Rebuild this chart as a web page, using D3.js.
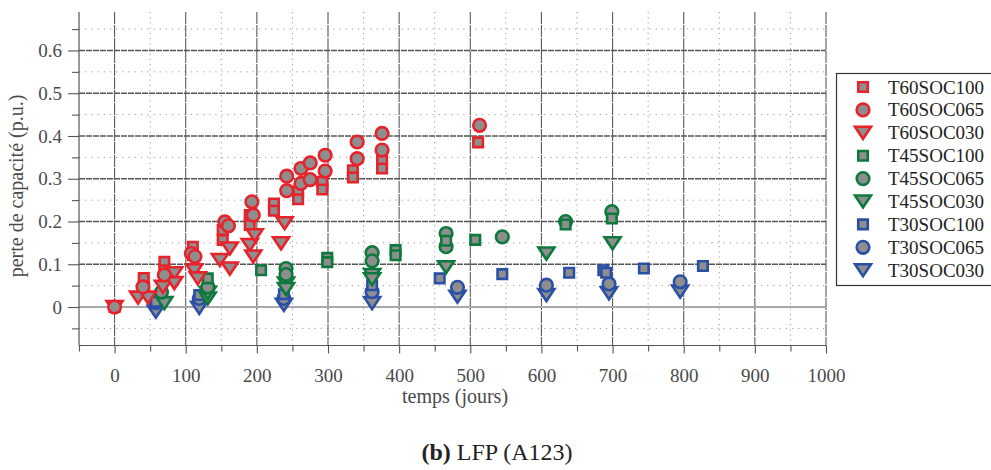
<!DOCTYPE html>
<html>
<head>
<meta charset="utf-8">
<script src="https://cdn.jsdelivr.net/npm/d3@7/dist/d3.min.js"></script>
<style>
  html, body { margin: 0; padding: 0; background: #fff; }
  svg { display: block; font-family: "Liberation Serif", "DejaVu Serif", serif; }
</style>
</head>
<body>
<svg id="chart" width="991" height="470"></svg>
<script>
// ---------- data ----------
const seriesNames = ["T60SOC100","T60SOC065","T60SOC030","T45SOC100","T45SOC065","T45SOC030","T30SOC100","T30SOC065","T30SOC030"];

const T60SOC100 = [[0,0],[41,0.068],[41,0.048],[70,0.106],[70,0.086],[110,0.141],[110,0.121],[152,0.18],[152,0.157],[190,0.215],[190,0.192],[224,0.242],[224,0.225],[258,0.27],[258,0.252],[292,0.293],[292,0.275],[335,0.32],[335,0.303],[376,0.343],[376,0.324],[511,0.385]];
const T60SOC065 = [[0,0],[40,0.047],[70,0.075],[108,0.125],[113,0.118],[155,0.199],[160,0.19],[193,0.246],[195,0.215],[242,0.306],[242,0.272],[262,0.324],[262,0.289],[275,0.337],[275,0.298],[296,0.355],[296,0.318],[341,0.386],[341,0.347],[376,0.406],[376,0.367],[513,0.425]];
const T60SOC030 = [[0,0],[33,0.022],[47,0.022],[68,0.047],[84,0.079],[84,0.056],[112,0.086],[117,0.067],[148,0.11],[162,0.137],[162,0.09],[190,0.145],[195,0.118],[197,0.168],[234,0.149],[239,0.196]];
const T45SOC100 = [[131,0.067],[206,0.086],[299,0.115],[299,0.105],[395,0.133],[395,0.121],[466,0.155],[507,0.157],[634,0.193],[699,0.207]];
const T45SOC065 = [[66,0.035],[131,0.047],[241,0.09],[241,0.076],[362,0.127],[362,0.108],[466,0.172],[466,0.141],[545,0.164],[634,0.2],[699,0.223]];
const T45SOC030 = [[70,0.009],[131,0.02],[131,0.033],[241,0.055],[241,0.042],[362,0.075],[362,0.065],[466,0.093],[607,0.125],[700,0.149]];
const T30SOC100 = [[58,0.012],[119,0.028],[238,0.03],[362,0.051],[457,0.067],[545,0.077],[639,0.08],[687,0.086],[691,0.08],[744,0.09],[827,0.096]];
const T30SOC065 = [[58,0.01],[119,0.02],[238,0.02],[362,0.036],[482,0.046],[607,0.051],[695,0.054],[795,0.059]];
const T30SOC030 = [[58,-0.011],[119,-0.002],[238,0.005],[362,0.009],[482,0.024],[607,0.028],[695,0.032],[795,0.036]];

const xMajorTicks = [0,100,200,300,400,500,600,700,800,900,1000];
const xTickLabels = ["0","100","200","300","400","500","600","700","800","900","1000"];
const xMinorTicks = [-50,50,150,250,350,450,550,650,750,850,950];
const yMajorTicks = [0,0.1,0.2,0.3,0.4,0.5,0.6];
const yMinorTicks = [-0.05,0.05,0.15,0.25,0.35,0.45,0.55,0.65];
const yTickLabels = ["0","0.1","0.2","0.3","0.4","0.5","0.6"];
const xTitle = "temps (jours)";
const yTitle = "perte de capacité (p.u.)";

// ---------- styles ----------
const colorOf = { T60: "#e8222b", T45: "#0c7a3c", T30: "#2950a6" };
const fillGray = "#8e8e8e";

const seriesData = {T60SOC100,T60SOC065,T60SOC030,T45SOC100,T45SOC065,T45SOC030,T30SOC100,T30SOC065,T30SOC030};

const svg = d3.select("#chart");
const plot = { left: 79, right: 826, top: 12, bottom: 345.5 };

const x = d3.scaleLinear().domain([-50, 1000]).range([plot.left, plot.right]);
const y = d3.scaleLinear().domain([-0.09, 0.69]).range([plot.bottom, plot.top]);

// ---------- grid ----------
const grid = svg.append("g");
grid.selectAll(".vminor").data(xMinorTicks.filter(d => d > -50)).enter().append("line")
  .attr("x1", d => x(d)).attr("x2", d => x(d))
  .attr("y1", plot.top).attr("y2", plot.bottom)
  .attr("stroke", "#9a9a9a").attr("stroke-width", 1).attr("stroke-dasharray", "1.2,4");
grid.selectAll(".hminor").data(yMinorTicks).enter().append("line")
  .attr("x1", plot.left).attr("x2", plot.right)
  .attr("y1", d => y(d)).attr("y2", d => y(d))
  .attr("stroke", "#9a9a9a").attr("stroke-width", 1).attr("stroke-dasharray", "1.2,5");
grid.selectAll(".vmajor").data(xMajorTicks).enter().append("line")
  .attr("x1", d => x(d)).attr("x2", d => x(d))
  .attr("y1", plot.top).attr("y2", plot.bottom)
  .attr("stroke", "#5a5a5a").attr("stroke-width", 1.1).attr("stroke-dasharray", "12,1");
grid.selectAll(".hmajor").data(yMajorTicks.filter(d => d !== 0)).enter().append("line")
  .attr("x1", plot.left).attr("x2", plot.right)
  .attr("y1", d => y(d)).attr("y2", d => y(d))
  .attr("stroke", "#555").attr("stroke-width", 1.3).attr("stroke-dasharray", "6,1");
grid.append("line")
  .attr("x1", plot.left).attr("x2", plot.right)
  .attr("y1", y(0)).attr("y2", y(0))
  .attr("stroke", "#a8a8a8").attr("stroke-width", 2.2);

// ---------- axes ----------
const axisColor = "#555";
const yAxisMinor = svg.append("g").attr("transform", `translate(${plot.left},0)`)
  .call(d3.axisLeft(y).tickValues(yMinorTicks).tickSize(7).tickFormat(""));
const yAxis = svg.append("g").attr("transform", `translate(${plot.left},0)`)
  .call(d3.axisLeft(y).tickValues(yMajorTicks).tickSize(11).tickPadding(6)
    .tickFormat((d, i) => yTickLabels[i]));
const xAxisMinor = svg.append("g").attr("transform", `translate(0,${plot.bottom})`)
  .call(d3.axisBottom(x).tickValues(xMinorTicks).tickSize(6).tickFormat(""));
const xAxis = svg.append("g").attr("transform", `translate(0,${plot.bottom})`)
  .call(d3.axisBottom(x).tickValues(xMajorTicks).tickSize(8).tickPadding(15)
    .tickFormat((d, i) => xTickLabels[i]));

[yAxisMinor, yAxis, xAxisMinor, xAxis].forEach(g => {
  g.select(".domain").remove();
  g.selectAll("line").attr("stroke", axisColor).attr("stroke-width", 1.1);
  g.selectAll("text").attr("fill", "#4a4a4a").attr("font-size", 19)
    .attr("font-family", "Liberation Serif, serif");
});
svg.append("line").attr("x1", plot.left).attr("x2", plot.left)
  .attr("y1", plot.top).attr("y2", plot.bottom).attr("stroke", axisColor).attr("stroke-width", 1.2);
svg.append("line").attr("x1", plot.left).attr("x2", plot.right)
  .attr("y1", plot.bottom).attr("y2", plot.bottom).attr("stroke", axisColor).attr("stroke-width", 1.2);

// titles
svg.append("text").attr("x", 455).attr("y", 403).attr("text-anchor", "middle")
  .attr("font-size", 20).attr("fill", "#4a4a4a").text(xTitle);
svg.append("text").attr("transform", "translate(23,186) rotate(-90)").attr("text-anchor", "middle")
  .attr("font-size", 20).attr("fill", "#4a4a4a").text(yTitle);

// caption
const cap = svg.append("text").attr("x", 497).attr("y", 460).attr("text-anchor", "middle")
  .attr("font-size", 24).attr("fill", "#222");
cap.append("tspan").attr("font-weight", "bold").text("(b)");
cap.append("tspan").text(" LFP (A123)");

// ---------- markers ----------
function markerPath(shape) {
  if (shape === "SOC100") { const s = 9.5; return `M${-s/2},${-s/2}H${s/2}V${s/2}H${-s/2}Z`; }
  if (shape === "SOC065") { const r = 6.3; return `M${r},0A${r},${r} 0 1,1 ${-r},0A${r},${r} 0 1,1 ${r},0Z`; }
  const w = 16, h = 12; return `M${-w/2},${-h/2}L${w/2},${-h/2}L0,${h/2}Z`;
}

const drawOrder = ["T30SOC030","T30SOC065","T30SOC100","T45SOC030","T45SOC065","T45SOC100","T60SOC100","T60SOC030","T60SOC065"];
const marks = svg.append("g");
drawOrder.forEach(name => {
  const temp = name.slice(0, 3), soc = name.slice(3);
  marks.append("g").selectAll("path").data(seriesData[name]).enter().append("path")
    .attr("d", markerPath(soc))
    .attr("transform", d => `translate(${x(d[0])},${y(d[1])})`)
    .attr("fill", fillGray).attr("stroke", colorOf[temp]).attr("stroke-width", 2.6);
});

// ---------- legend ----------
const leg = svg.append("g");
leg.append("rect").attr("x", 836.5).attr("y", 73.5).attr("width", 160).attr("height", 212)
  .attr("fill", "#fff").attr("stroke", "#333").attr("stroke-width", 1.2);
seriesNames.forEach((name, i) => {
  const temp = name.slice(0, 3), soc = name.slice(3);
  const yy = 87 + i * 22.9;
  leg.append("path").attr("d", markerPath(soc)).attr("transform", `translate(863,${yy})`)
    .attr("fill", fillGray).attr("stroke", colorOf[temp]).attr("stroke-width", 2.6);
  leg.append("text").attr("x", 888).attr("y", yy + 6.5).attr("font-size", 19)
    .attr("fill", "#222").text(name);
});
</script>
</body>
</html>
